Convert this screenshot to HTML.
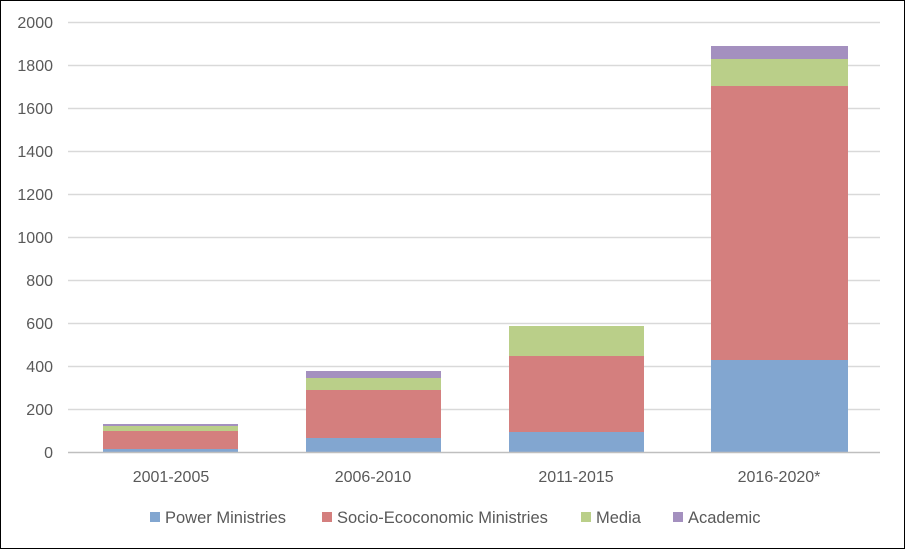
<!DOCTYPE html>
<html><head><style>
body{margin:0;width:905px;height:549px;overflow:hidden;background:#fff;font-family:"Liberation Sans",sans-serif;}
</style></head><body>
<svg width="905" height="549" xmlns="http://www.w3.org/2000/svg" font-family="Liberation Sans, sans-serif">
<rect x="0.5" y="0.5" width="904" height="548" fill="#fff" stroke="#000"/>
<g stroke="#d9d9d9" stroke-width="1.5">
<line x1="68" x2="880" y1="22.5" y2="22.5"/><line x1="68" x2="880" y1="65.5" y2="65.5"/>
<line x1="68" x2="880" y1="108.5" y2="108.5"/><line x1="68" x2="880" y1="151.5" y2="151.5"/>
<line x1="68" x2="880" y1="194.5" y2="194.5"/><line x1="68" x2="880" y1="237.5" y2="237.5"/>
<line x1="68" x2="880" y1="280.5" y2="280.5"/><line x1="68" x2="880" y1="323.5" y2="323.5"/>
<line x1="68" x2="880" y1="366.5" y2="366.5"/><line x1="68" x2="880" y1="409.5" y2="409.5"/>
</g>
<g>
<rect x="103" y="424" width="135" height="2" fill="#a490bf"/>
<rect x="103" y="426" width="135" height="5" fill="#bacf89"/>
<rect x="103" y="431" width="135" height="18" fill="#d47f7e"/>
<rect x="103" y="449" width="135" height="3" fill="#82a6d0"/>
<rect x="306" y="371" width="135" height="7" fill="#a490bf"/>
<rect x="306" y="378" width="135" height="12" fill="#bacf89"/>
<rect x="306" y="390" width="135" height="48" fill="#d47f7e"/>
<rect x="306" y="438" width="135" height="14" fill="#82a6d0"/>
<rect x="509" y="326" width="135" height="30" fill="#bacf89"/>
<rect x="509" y="356" width="135" height="76" fill="#d47f7e"/>
<rect x="509" y="432" width="135" height="20" fill="#82a6d0"/>
<rect x="711" y="46" width="137" height="13" fill="#a490bf"/>
<rect x="711" y="59" width="137" height="27" fill="#bacf89"/>
<rect x="711" y="86" width="137" height="274" fill="#d47f7e"/>
<rect x="711" y="360" width="137" height="92" fill="#82a6d0"/>
</g>
<line x1="68" x2="880" y1="452.5" y2="452.5" stroke="#bfbfbf" stroke-width="1.5"/>
<g font-size="16" fill="#595959" text-anchor="end">
<text x="53" y="28">2000</text><text x="53" y="71">1800</text><text x="53" y="114">1600</text>
<text x="53" y="157">1400</text><text x="53" y="200">1200</text><text x="53" y="243">1000</text>
<text x="53" y="286">800</text><text x="53" y="329">600</text><text x="53" y="372">400</text>
<text x="53" y="415">200</text><text x="53" y="458">0</text>
</g>
<g font-size="16" fill="#595959" text-anchor="middle">
<text x="171" y="482">2001-2005</text><text x="373" y="482">2006-2010</text>
<text x="576" y="482">2011-2015</text><text x="779" y="482">2016-2020*</text>
</g>
<g font-size="16.5" fill="#595959">
<rect x="150" y="512" width="10" height="10" fill="#82a6d0"/><text x="165" y="523">Power Ministries</text>
<rect x="322" y="512" width="10" height="10" fill="#d47f7e"/><text x="337" y="523">Socio-Ecoconomic Ministries</text>
<rect x="581" y="512" width="10" height="10" fill="#bacf89"/><text x="596" y="523">Media</text>
<rect x="673" y="512" width="10" height="10" fill="#a490bf"/><text x="688" y="523">Academic</text>
</g>
</svg>
</body></html>
